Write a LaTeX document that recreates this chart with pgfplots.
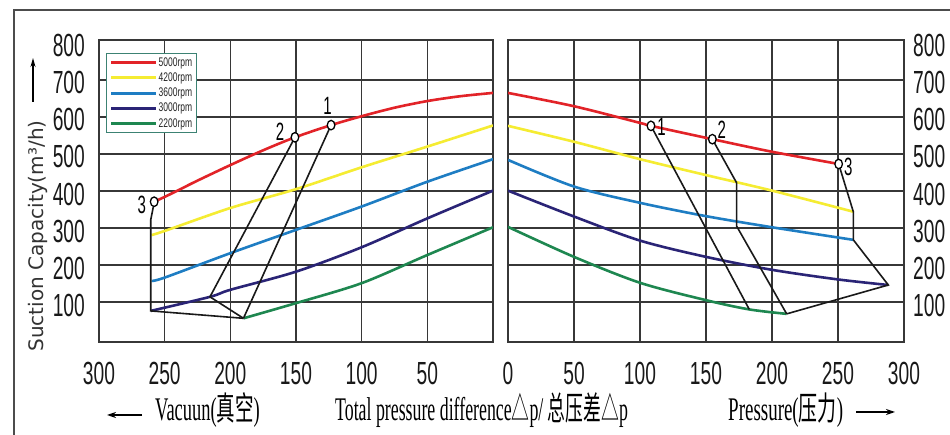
\documentclass[border=0pt]{standalone}
\usepackage{pgfplots}
\pgfplotsset{compat=1.18}
\usepackage{fontspec}
\setmainfont{Liberation Sans}
\newfontfamily\serif{Liberation Serif}
\newfontfamily\dejavu{DejaVu Sans}
\newfontfamily\cjk{Noto Sans CJK SC}
\usetikzlibrary{arrows.meta}
\definecolor{redc}{RGB}{226,35,40}
\definecolor{yelc}{RGB}{245,236,50}
\definecolor{bluc}{RGB}{30,125,195}
\definecolor{navc}{RGB}{42,36,118}
\definecolor{grnc}{RGB}{30,135,80}
\definecolor{legteal}{RGB}{60,130,115}
\definecolor{gridc}{RGB}{55,55,55}
\tikzset{numlab/.style={font=\fontsize{25}{25}\selectfont, inner sep=0pt}}
\pgfplotsset{
  panel/.style={
    scale only axis, height=302pt,
    ymin=-8, ymax=808, xmin=0, xmax=300,
    ytick={100,200,...,700}, extra y ticks={800}, extra y tick style={grid=none},
    grid=major, grid style={line width=1.2pt, gridc},
    axis line style={line width=1.5pt, gridc},
    major tick length=0pt,
    /pgf/number format/assume math mode=true,
    ticklabel style={font=\fontsize{32}{32}\selectfont, inner sep=0pt, text=black!90},
    xticklabel={\scalebox{0.6}[1]{\pgfmathprintnumber{\tick}}},
    yticklabel={\scalebox{0.6}[1]{\pgfmathprintnumber{\tick}}},
    xticklabel style={anchor=north, yshift=-20pt},
  },
  curve/.style={line width=2.6pt, smooth},
  blk/.style={line width=1.6pt, black!90, forget plot},
  circ/.style={only marks, mark=*, mark size=3.8pt, forget plot,
     mark options={fill=white, draw=black, line width=1.3pt, yscale=1.25}},
}
\begin{document}
\begin{tikzpicture}
\useasboundingbox (0pt,0pt) rectangle (950pt,435pt);
\fill[white] (0pt,0pt) rectangle (950pt,435pt);
\draw[line width=1.5pt, black!70] (14pt,0pt) -- (14pt,425pt) -- (950pt,425pt);

% left panel (vacuum)
\begin{axis}[panel, at={(99pt,93pt)}, anchor=south west, width=394pt,
  x dir=reverse, xtick={50,100,...,300},
  yticklabel style={anchor=east, xshift=-14pt, yshift=-3pt},
  legend style={at={(axis description cs:0.018,0.957)}, anchor=north west,
    draw=legteal, line width=1.2pt, fill=white, inner xsep=3pt, inner ysep=3pt,
    font=\fontsize{12.5}{12.5}\selectfont, row sep=3pt,
    nodes={inner sep=1pt, text=black!85}},
  legend cell align=left,
  legend image code/.code={\draw[#1, line width=3pt] (0pt,0pt) -- (45pt,0pt);},
]
\addplot[curve, redc] coordinates {(258,371) (250,384) (238,405) (225,428) (200,470) (175,510) (150.8,545) (123.3,578) (100,602) (75,625) (50,643) (25,656) (0,665)};
\addlegendentry{\scalebox{0.68}[1]{5000rpm}}
\addplot[curve, yelc] coordinates {(260,281) (250,292) (200,354) (150,405) (100,464) (50,520) (0,577)};
\addlegendentry{\scalebox{0.68}[1]{4200rpm}}
\addplot[curve, bluc] coordinates {(260,157) (250,166) (200,232) (150,295) (100,358) (50,425) (0,486)};
\addlegendentry{\scalebox{0.68}[1]{3600rpm}}
\addplot[curve, navc] coordinates {(260.6,76) (215.5,114) (200,133) (150,182) (100,248) (50,326) (0,401)};
\addlegendentry{\scalebox{0.68}[1]{3000rpm}}
\addplot[curve, grnc] coordinates {(190,56) (150,97) (100,151) (50,227) (0,302)};
\addlegendentry{\scalebox{0.68}[1]{2200rpm}}
\addplot[blk] coordinates {(258,371) (258.6,358) (260.6,322) (260.6,76) (190,56)};
\addplot[blk] coordinates {(150.8,545) (215.5,114) (190,56)};
\addplot[blk] coordinates {(123.3,578) (190,56)};
\addplot[circ] coordinates {(123.3,578) (150.8,545) (258,371)};
\node[numlab] at (axis cs:125.9,630) {\scalebox{0.6}[1]{1}};
\node[numlab] at (axis cs:162.2,560) {\scalebox{0.6}[1]{2}};
\node[numlab] at (axis cs:267.5,362) {\scalebox{0.6}[1]{3}};
\end{axis}

% right panel (pressure)
\begin{axis}[panel, at={(508pt,93pt)}, anchor=south west, width=396pt,
  xtick={0,50,...,300},
  yticklabel pos=right,
  yticklabel style={anchor=west, xshift=9pt, yshift=-3pt},
]
\addplot[curve, redc] coordinates {(0,665) (50,629) (100,584) (108.3,576) (154.8,540) (200,506) (250.5,473)};
\addplot[curve, yelc] coordinates {(0,576) (50,533) (100,486) (150,443) (200,401) (261.6,344)};
\addplot[curve, bluc] coordinates {(0,484) (50,412) (100,368) (150,332) (200,302) (261.6,268)};
\addplot[curve, navc] coordinates {(0,401) (50,331) (100,266) (150,222) (200,187) (250,161) (288.1,146)};
\addplot[curve, grnc] coordinates {(0,303) (50,222) (100,152) (150,105) (182.8,80) (211.1,68)};
\addplot[blk] coordinates {(108.3,576) (182.8,80)};
\addplot[blk] coordinates {(154.8,540) (173.2,422) (173.2,305) (211.1,68)};
\addplot[blk] coordinates {(250.5,473) (261.6,344) (261.6,268) (288.1,146) (211.1,68)};
\addplot[circ] coordinates {(108.3,576) (154.8,540) (250.5,473)};
\node[numlab] at (axis cs:116.4,572) {\scalebox{0.6}[1]{1}};
\node[numlab] at (axis cs:161.9,565) {\scalebox{0.6}[1]{2}};
\node[numlab] at (axis cs:257.8,464) {\scalebox{0.6}[1]{3}};
\end{axis}

% y label and arrow
\node[rotate=90, inner sep=0pt, text=black!80, font=\dejavu\fontsize{20}{20}\selectfont] at (38pt,199pt) {Suction Capacity(m³/h)};
\draw[line width=1.3pt, -{Stealth[length=9pt,width=5pt]}] (33pt,333pt) -- (33pt,377pt);

% bottom texts
\draw[line width=1.5pt, -{Stealth[length=9pt,width=6pt]}] (142pt,20pt) -- (107pt,20pt);
\draw[line width=1.5pt, -{Stealth[length=9pt,width=6pt]}] (856pt,23pt) -- (895pt,23pt);
\node[anchor=base west, inner sep=0pt, font=\fontsize{33}{33}\selectfont] at (155pt,14pt)
  {\scalebox{0.56}[1]{\serif Vacuun(\cjk 真空\serif )}};
\node[anchor=base west, inner sep=0pt, font=\fontsize{33}{33}\selectfont] at (335pt,14pt)
  {\scalebox{0.54}[1]{\serif Total pressure difference\cjk △\serif p/ \cjk 总压差△\serif p}};
\node[anchor=base west, inner sep=0pt, font=\fontsize{33}{33}\selectfont] at (728pt,14pt)
  {\scalebox{0.575}[1]{\serif Pressure(\cjk 压力\serif )}};
\end{tikzpicture}
\end{document}
